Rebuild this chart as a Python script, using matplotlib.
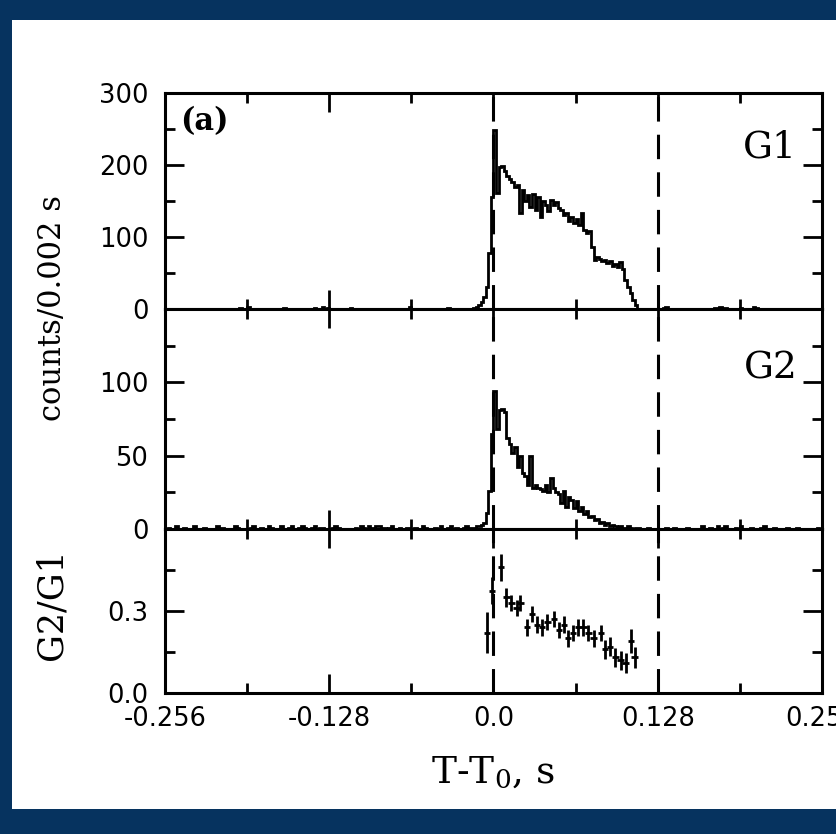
import matplotlib
matplotlib.use('Agg')
import matplotlib.pyplot as plt
import numpy as np
from matplotlib.patches import Rectangle

# time bins of 0.002 s from -0.256 to +0.256 s
bin_width = 0.002
t_start = -0.256

# counts per 0.002 s bin, detector G1 (256 bins)
g1_counts = [
    0, 0, 0, 0, 0, 0, 0, 0, 0, 0, 0, 0, 0, 0, 0, 0,
    0, 0, 0, 0, 0, 0, 0, 0, 0, 0, 0, 0, 0, 2, 0, 0,
    3, 0, 0, 0, 0, 0, 0, 0, 0, 0, 0, 0, 0, 0, 2, 0,
    0, 0, 0, 0, 0, 0, 0, 0, 0, 0, 2, 0, 0, 3, 0, 2,
    0, 0, 0, 0, 0, 0, 0, 0, 2, 0, 0, 0, 0, 0, 0, 0,
    0, 0, 0, 0, 0, 0, 0, 0, 0, 0, 0, 0, 0, 0, 0, 3,
    0, 0, 0, 0, 0, 0, 0, 0, 0, 0, 0, 0, 0, 0, 1, 0,
    0, 0, 0, 0, 0, 0, 0, 0, 1, 3, 5, 10, 17, 30, 78, 156,
    248, 161, 197, 198, 192, 185, 180, 176, 170, 172, 133, 165, 150, 158, 142, 160,
    138, 155, 128, 150, 145, 136, 151, 145, 148, 140, 137, 130, 133, 122, 128, 119,
    125, 116, 133, 110, 105, 108, 86, 68, 72, 70, 66, 68, 64, 66, 60, 63,
    58, 65, 55, 40, 30, 22, 12, 5, 0, 0, 0, 0, 0, 0, 0, 0,
    0, 0, 2, 3, 0, 0, 0, 0, 0, 0, 0, 0, 0, 0, 0, 0,
    0, 0, 0, 0, 0, 0, 2, 0, 3, 0, 2, 0, 0, 0, 0, 0,
    2, 0, 0, 0, 0, 3, 2, 0, 0, 0, 0, 0, 0, 0, 0, 0,
    0, 0, 0, 0, 0, 0, 0, 0, 0, 0, 0, 0, 0, 0, 0, 0,
]

# counts per 0.002 s bin, detector G2 (256 bins)
g2_counts = [
    0, 1, 0, 0, 2, 0, 0, 1, 0, 0, 0, 2, 0, 0, 0, 1,
    0, 0, 0, 0, 2, 0, 1, 0, 0, 0, 0, 2, 1, 0, 0, 0,
    0, 1, 2, 0, 0, 1, 0, 0, 2, 1, 0, 0, 0, 2, 0, 0,
    1, 2, 0, 0, 1, 2, 1, 0, 0, 1, 2, 0, 1, 1, 0, 0,
    0, 1, 2, 1, 0, 0, 0, 0, 0, 0, 1, 0, 2, 1, 0, 2,
    1, 0, 2, 2, 0, 1, 0, 1, 2, 0, 0, 1, 0, 0, 1, 0,
    0, 1, 0, 0, 2, 1, 0, 0, 0, 1, 0, 2, 0, 0, 1, 2,
    0, 1, 0, 0, 1, 2, 1, 1, 1, 2, 2, 3, 4, 11, 26, 65,
    94, 68, 81, 82, 80, 62, 58, 52, 56, 42, 50, 38, 36, 30, 50, 28,
    30, 28, 27, 26, 30, 25, 35, 28, 25, 24, 18, 26, 15, 22, 20, 14,
    19, 12, 15, 10, 12, 8, 9, 6, 7, 4, 5, 3, 4, 2, 3, 2,
    1, 2, 1, 1, 2, 1, 0, 1, 1, 0, 0, 0, 1, 0, 0, 0,
    0, 0, 0, 1, 0, 0, 1, 0, 0, 0, 0, 1, 0, 0, 0, 0,
    0, 2, 0, 0, 1, 0, 0, 2, 0, 1, 2, 0, 0, 0, 1, 0,
    2, 0, 0, 0, 1, 0, 0, 0, 1, 2, 0, 0, 0, 1, 0, 0,
    0, 0, 1, 0, 0, 0, 1, 0, 0, 0, 0, 0, 0, 0, 1, 0,
]

# hardness ratio G2/G1 with 1-sigma errors
ratio_t = [-0.005, -0.001, 0.006, 0.010, 0.014, 0.018, 0.021, 0.026, 0.030, 0.034,
           0.038, 0.042, 0.047, 0.051, 0.055, 0.058, 0.062, 0.066, 0.070, 0.074,
           0.078, 0.084, 0.087, 0.091, 0.095, 0.099, 0.103, 0.107, 0.110]
ratio_val = [0.22, 0.375, 0.46, 0.35, 0.33, 0.31, 0.33, 0.24, 0.29, 0.25,
             0.24, 0.26, 0.27, 0.23, 0.25, 0.20, 0.22, 0.24, 0.24, 0.22,
             0.20, 0.22, 0.16, 0.17, 0.13, 0.12, 0.11, 0.19, 0.13]
ratio_err = [0.075, 0.05, 0.05, 0.035, 0.03, 0.03, 0.03, 0.03, 0.03, 0.03,
             0.03, 0.03, 0.03, 0.03, 0.03, 0.03, 0.03, 0.03, 0.03, 0.03,
             0.03, 0.03, 0.035, 0.035, 0.035, 0.035, 0.035, 0.045, 0.04]

x_ticks = [-0.256, -0.128, 0.0, 0.128, 0.256]
x_ticklabels = ['-0.256', '-0.128', '0.0', '0.128', '0.256']
x_minor = [-0.192, -0.064, 0.064, 0.192]
burst_window = [0.0, 0.128]

navy = '#06335f'
W, H = 837, 834

fig = plt.figure(figsize=(W / 100, H / 100), dpi=100, facecolor=navy)
# white page inside the dark frame (frame is open on the right)
fig.add_artist(Rectangle((12 / W, 25 / H), 1 - 12 / W, 1 - 45 / H,
                         transform=fig.transFigure, facecolor='white',
                         edgecolor='none', zorder=-10))


def axes_px(top, bottom):
    return fig.add_axes([165 / W, 1 - bottom / H, 657 / W, (bottom - top) / H])


ax1 = axes_px(93, 309)
ax2 = axes_px(309, 529)
ax3 = axes_px(529, 693)

edges = t_start + bin_width * np.arange(len(g1_counts) + 1)
ax1.stairs(g1_counts, edges, baseline=None, color='k', lw=2.0)
ax2.stairs(g2_counts, edges, baseline=None, color='k', lw=2.0)
ax3.errorbar(ratio_t, ratio_val, yerr=ratio_err, xerr=0.0025, fmt='none',
             ecolor='k', elinewidth=2.0, capsize=0)

tick_font = dict(family='DejaVu Sans', size=18.5)
label_font = dict(family='DejaVu Serif')

for ax in (ax1, ax2, ax3):
    ax.set_xlim(-0.256, 0.256)
    for x in burst_window:
        ax.axvline(x, color='k', lw=2.2, ls=(0, (8, 4.3)))
    ax.set_xticks(x_ticks)
    ax.set_xticks(x_minor, minor=True)
    ax.tick_params(which='both', direction='in', top=True, right=True,
                   width=2.0, pad=12)
    ax.tick_params(which='major', length=14)
    ax.tick_params(which='minor', length=7.5)
    for s in ax.spines.values():
        s.set_linewidth(2.2)

ax1.set_ylim(0, 300)
ax1.set_yticks([0, 100, 200, 300])
ax1.set_yticklabels(['0', '100', '200', '300'], **tick_font)
ax1.set_yticks([50, 150, 250], minor=True)

ax2.set_ylim(0, 150)
ax2.set_yticks([0, 50, 100, 150])
ax2.set_yticklabels(['0', '50', '100', ''], **tick_font)
ax2.set_yticks([25, 75, 125], minor=True)

ax3.set_ylim(0, 0.6)
ax3.set_yticks([0.0, 0.3, 0.6])
ax3.set_yticklabels(['0.0', '0.3', ''], **tick_font)
ax3.set_yticks([0.15, 0.45], minor=True)

ax1.set_xticklabels([])
ax2.set_xticklabels([])
ax3.set_xticklabels(x_ticklabels, **tick_font)
ax3.tick_params(axis='x', pad=9)

ax1.text(0.023, 0.94, '(a)', transform=ax1.transAxes, ha='left', va='top',
         fontsize=22, fontweight='bold', **label_font)
ax1.text(0.962, 0.70, 'G1', transform=ax1.transAxes, ha='right',
         va='baseline', fontsize=27, **label_font)
ax2.text(0.963, 0.686, 'G2', transform=ax2.transAxes, ha='right',
         va='baseline', fontsize=27, **label_font)

plt.rcParams['mathtext.fontset'] = 'dejavuserif'
fig.text(53 / W, 1 - 308 / H, 'counts/0.002 s', rotation=90, ha='center',
         va='center', fontsize=22, **label_font)
fig.text(52 / W, 1 - 604 / H, 'G2/G1', rotation=90, ha='center',
         va='center', fontsize=25, **label_font)
fig.text(493 / W, 1 - 783 / H, r'T-T$_0$, s', ha='center', va='baseline',
         fontsize=27, **label_font)

fig.savefig('out.png', dpi=100, facecolor=fig.get_facecolor())
